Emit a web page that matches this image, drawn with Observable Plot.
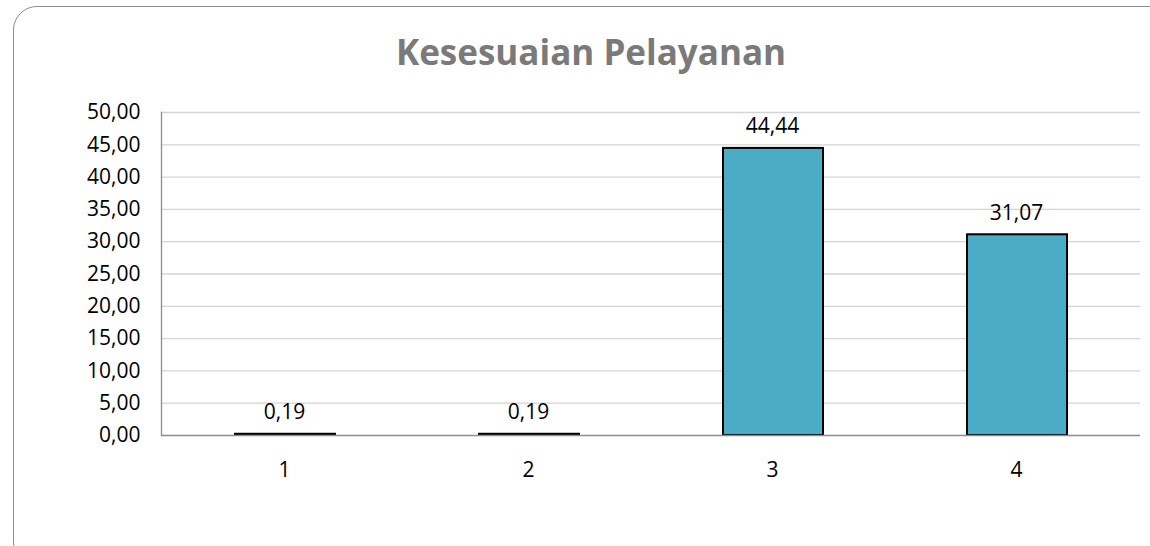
<!DOCTYPE html>
<html>
<head>
<meta charset="utf-8">
<script src="https://cdn.jsdelivr.net/npm/d3@7"></script>
<script src="https://cdn.jsdelivr.net/npm/@observablehq/plot@0.6"></script>
<style>
  html, body { margin: 0; padding: 0; background: #fff; }
  #wrap { position: relative; width: 1150px; height: 546px; overflow: hidden; font-family: "Open Sans", sans-serif; }
  #frame { position: absolute; left: 13px; top: 6px; width: 1160px; height: 560px; border: 1px solid #8c8c8c; border-radius: 24px; box-sizing: border-box; }
  #title { position: absolute; left: 0; width: 1182px; top: 31px; text-align: center; font-size: 35px; line-height: 42px; font-weight: 700; color: #7a7a7a; }
  #chart { position: absolute; left: 0; top: 90px; }
</style>
</head>
<body>
<div id="wrap">
  <div id="frame"></div>
  <div id="title">Kesesuaian Pelayanan</div>
  <div id="chart"></div>
</div>
<script>
const categories = ["1", "2", "3", "4"];
const values = [0.19, 0.19, 44.44, 31.07];
const yTicks = [0, 5, 10, 15, 20, 25, 30, 35, 40, 45, 50];

const data = categories.map((c, i) => ({ cat: c, value: values[i] }));
const fmt = v => d3.format(".2f")(v).replace(".", ",");

const plot = Plot.plot({
  width: 1150,
  height: 456,
  marginLeft: 161,
  marginRight: 10,
  marginTop: 22,
  marginBottom: 111,
  style: { fontFamily: "Open Sans, sans-serif", fontSize: "21px", color: "#000", background: "transparent" },
  x: { domain: categories, paddingInner: 0.59, paddingOuter: 0.295, label: null },
  y: { domain: [0, 50], label: null },
  marks: [
    Plot.ruleY(yTicks.filter(d => d > 0), { stroke: "#d4d4d4", strokeWidth: 1.3, strokeOpacity: 1 }),
    Plot.axisY(yTicks, { tickSize: 0, tickPadding: 21, tickFormat: fmt, fontSize: 21, label: null }),
    Plot.axisX({ tickSize: 0, tickPadding: 27, fontSize: 21, label: null }),
    Plot.barY(data, { x: "cat", y: "value", fill: "#4BACC6", stroke: "#000", strokeWidth: 2, insetLeft: 1, insetRight: -1 }),
    Plot.ruleY([0], { stroke: "#8c8c8c", strokeWidth: 1.3 }),
    Plot.frame({ anchor: "left", stroke: "#8c8c8c", strokeWidth: 1.3 }),
    Plot.text(data, { x: "cat", y: "value", text: d => fmt(d.value), lineAnchor: "bottom", dy: -15, fontSize: 21, fill: "#000" })
  ]
});
document.getElementById("chart").appendChild(plot);
</script>
</body>
</html>
